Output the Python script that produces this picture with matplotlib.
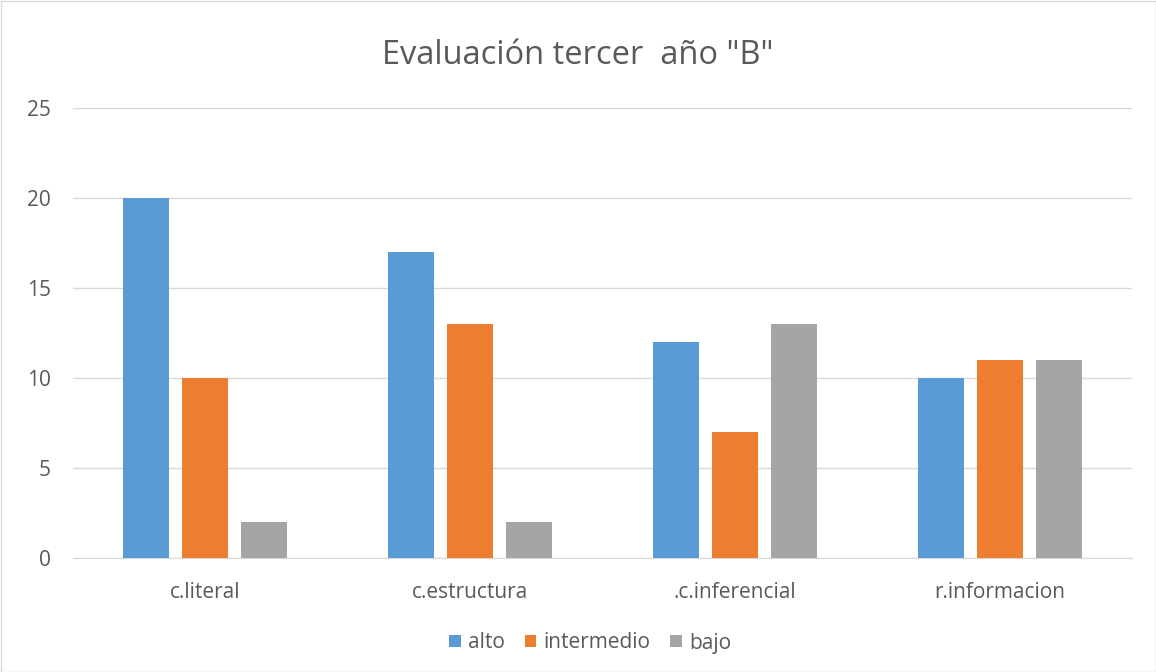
import matplotlib.pyplot as plt
import numpy as np
from matplotlib.patches import Rectangle

plt.rcParams['font.family'] = ['Open Sans', 'DejaVu Sans']

categories = ['c.literal', 'c.estructura', '.c.inferencial', 'r.informacion']
series_names = ['alto', 'intermedio', 'bajo']
alto = [20, 17, 12, 10]
intermedio = [10, 13, 7, 11]
bajo = [2, 2, 13, 11]
colors = ['#5B9BD5', '#ED7D31', '#A5A5A5']
yticks = [0, 5, 10, 15, 20, 25]

fig = plt.figure(figsize=(11.56, 6.72), dpi=100)
ax = fig.add_axes([73 / 1156, (672 - 558) / 672, (1132 - 73) / 1156, 450 / 672])

x = np.arange(len(categories))
width = 0.174
step = 0.223
for i, (vals, name) in enumerate(zip([alto, intermedio, bajo], series_names)):
    ax.bar(x + (i - 1) * step, vals, width, color=colors[i], label=name, zorder=3)

ax.set_xlim(-0.5, len(categories) - 0.5)
ax.set_ylim(0, 25)
ax.set_yticks(yticks)
ax.set_xticks(x)
ax.set_xticklabels(categories)
ax.grid(axis='y', color='#D9D9D9', linewidth=1, zorder=0)
for s in ['top', 'right', 'left']:
    ax.spines[s].set_visible(False)
ax.spines['bottom'].set_color('#D9D9D9')
ax.tick_params(axis='both', length=0, colors='#595959', labelsize=15)
ax.tick_params(axis='y', pad=16)
ax.tick_params(axis='x', pad=17)

fig.text(0.5, 1 - 55 / 672, 'Evaluación tercer  año "B"', ha='center', va='center',
         fontsize=23.5, color='#595959')

leg = fig.legend(loc='center', bbox_to_anchor=(590 / 1156, 1 - 643 / 672), ncol=3, frameon=False,
                 fontsize=15, handlelength=0.55, handleheight=0.55, handletextpad=0.35,
                 columnspacing=0.95)
for t in leg.get_texts():
    t.set_color('#595959')

fig.patches.append(Rectangle((0.5 / 1156, 0.5 / 672), 1 - 1 / 1156, 1 - 1 / 672,
                             transform=fig.transFigure, fill=False, edgecolor='#D9D9D9',
                             linewidth=1))

fig.savefig('out.png', dpi=100)
